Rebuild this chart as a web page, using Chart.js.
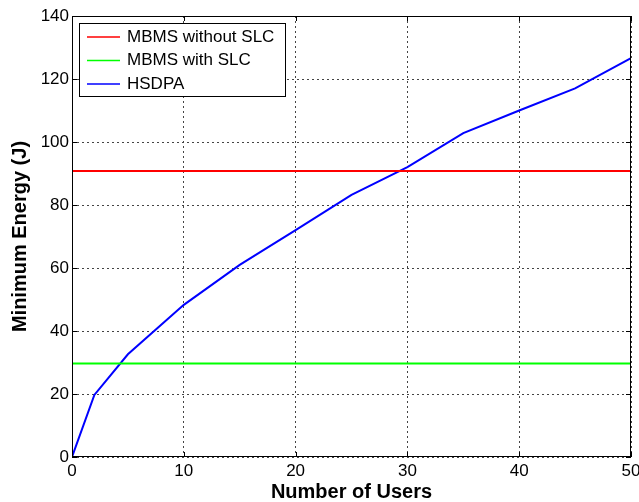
<!DOCTYPE html>
<html>
<head>
<meta charset="utf-8">
<script src="https://cdn.jsdelivr.net/npm/chart.js@4.4.0/dist/chart.umd.min.js"></script>
<style>
html,body{margin:0;padding:0;background:#fff;}
#wrap{width:639px;height:502px;position:relative;}
</style>
</head>
<body>
<div id="wrap"><canvas id="c" width="639" height="502"></canvas></div>
<script>
const users = [0, 2, 5, 10, 15, 20, 25, 30, 35, 40, 45, 50];
const hsdpa = [0, 19.7, 32.6, 48.3, 61, 72, 83.2, 92, 102.8, 110, 117, 126.6];
const mbmsWithoutSLC = 90.8;
const mbmsWithSLC = 29.7;
const xTicks = [0, 10, 20, 30, 40, 50];
const yTicks = [0, 20, 40, 60, 80, 100, 120, 140];
const seriesNames = ['MBMS without SLC', 'MBMS with SLC', 'HSDPA'];
const seriesColors = ['#ff0000', '#00ff00', '#0000ff'];

const FONT = '"Liberation Sans", Arial, sans-serif';

const boxPlugin = {
  id: 'boxPlugin',
  afterDatasetsDraw(chart) {
    const {ctx, chartArea: a, scales} = chart;
    ctx.save();
    ctx.strokeStyle = '#000';
    ctx.lineWidth = 1;
    ctx.strokeRect(a.left + 0.5, a.top + 0.5, a.right - a.left - 1, a.bottom - a.top - 1);
    // inner ticks
    ctx.beginPath();
    xTicks.forEach(v => {
      const x = Math.round(scales.x.getPixelForValue(v)) + 0.5;
      ctx.moveTo(x, a.bottom); ctx.lineTo(x, a.bottom - 5);
      ctx.moveTo(x, a.top); ctx.lineTo(x, a.top + 5);
    });
    yTicks.forEach(v => {
      const y = Math.round(scales.y.getPixelForValue(v)) + 0.5;
      ctx.moveTo(a.left, y); ctx.lineTo(a.left + 5, y);
      ctx.moveTo(a.right, y); ctx.lineTo(a.right - 5, y);
    });
    ctx.stroke();
    // legend
    const lx = a.left + 7, ly = a.top + 7, lw = 206, lh = 73;
    ctx.fillStyle = '#fff';
    ctx.fillRect(lx, ly, lw, lh);
    ctx.strokeRect(lx + 0.5, ly + 0.5, lw, lh);
    ctx.font = '17px ' + FONT;
    ctx.textBaseline = 'middle';
    seriesNames.forEach((n, i) => {
      const y = ly + 14 + i * 23.5;
      ctx.strokeStyle = seriesColors[i];
      ctx.lineWidth = 1.5;
      ctx.beginPath();
      ctx.moveTo(lx + 8, y); ctx.lineTo(lx + 41, y);
      ctx.stroke();
      ctx.fillStyle = '#000';
      ctx.fillText(n, lx + 48, y);
    });
    ctx.restore();
  }
};

new Chart(document.getElementById('c'), {
  type: 'scatter',
  data: {
    datasets: [
      {
        label: seriesNames[0],
        data: [{x: xTicks[0], y: mbmsWithoutSLC}, {x: xTicks[xTicks.length - 1], y: mbmsWithoutSLC}],
        borderColor: seriesColors[0], showLine: true, pointRadius: 0, borderWidth: 2
      },
      {
        label: seriesNames[1],
        data: [{x: xTicks[0], y: mbmsWithSLC}, {x: xTicks[xTicks.length - 1], y: mbmsWithSLC}],
        borderColor: seriesColors[1], showLine: true, pointRadius: 0, borderWidth: 2
      },
      {
        label: seriesNames[2],
        data: users.map((u, i) => ({x: u, y: hsdpa[i]})),
        borderColor: seriesColors[2], showLine: true, pointRadius: 0, borderWidth: 2
      }
    ]
  },
  options: {
    responsive: false,
    animation: false,
    layout: {padding: {left: 0, right: 0, top: 16, bottom: 0}},
    plugins: {legend: {display: false}, tooltip: {enabled: false}},
    scales: {
      x: {
        type: 'linear', min: 0, max: 50,
        afterBuildTicks(s) { s.ticks = xTicks.map(v => ({value: v})); },
        afterFit(s) { s.height = 45; s.paddingRight = 8; },
        grid: {color: '#444', lineWidth: 1, drawTicks: false, tickLength: 0},
        border: {display: false, dash: [2, 3]},
        ticks: {color: '#000', font: {family: FONT, size: 17}, padding: 4, maxRotation: 0},
        title: {display: true, text: 'Number of Users', color: '#000',
          font: {family: FONT, size: 20, weight: 'bold', lineHeight: 1.0}, padding: {top: 0, bottom: 0}}
      },
      y: {
        type: 'linear', min: 0, max: 140,
        afterBuildTicks(s) { s.ticks = yTicks.map(v => ({value: v})); },
        afterFit(s) { s.width = 72; },
        grid: {color: '#444', lineWidth: 1, drawTicks: false, tickLength: 0},
        border: {display: false, dash: [2, 3]},
        ticks: {color: '#000', font: {family: FONT, size: 17}, padding: 3},
        title: {display: true, text: 'Minimum Energy (J)', color: '#000',
          font: {family: FONT, size: 20, weight: 'bold'}, padding: {top: 8, bottom: 0}}
      }
    }
  },
  plugins: [boxPlugin]
});
</script>
</body>
</html>
